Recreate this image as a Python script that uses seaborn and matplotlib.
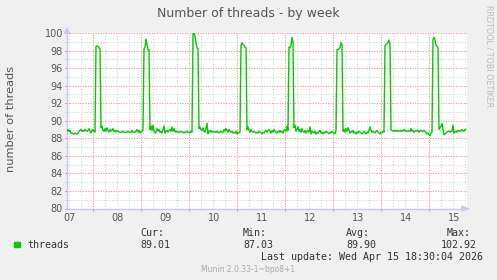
import numpy as np
import pandas as pd
import matplotlib
matplotlib.use("Agg")
import matplotlib.pyplot as plt
import seaborn as sns

# ---- data (30-minute samples) ----
seg0 = [88.8, 89.0, 88.8, 88.9, 88.6, 88.6, 88.5, 88.5, 88.6, 88.5,
        88.5, 88.6, 88.8, 88.9, 89.0, 88.8, 88.9, 88.8, 89.0, 88.9,
        88.8, 88.9, 89.1, 88.8, 88.6, 88.9, 89.0, 88.8, 88.7]
spike1 = [98.5, 98.5, 98.5, 98.3, 98.2]
seg1 = [89.2, 89.4, 88.9, 88.8, 89.1, 88.8, 89.2, 88.9, 88.7, 89.0,
        88.8, 88.9, 89.1, 88.8, 88.9, 88.7, 88.9, 88.8, 88.7, 88.7,
        88.7, 88.7, 88.8, 88.7, 88.7, 88.7, 88.7, 88.8, 88.7, 88.7,
        88.7, 88.9, 88.7, 88.7, 88.7, 88.8, 89.0, 88.7, 88.9, 88.6,
        88.7, 88.8, 88.9]
spike2 = [98.2, 98.4, 99.3, 98.7, 98.1, 98.1]
seg2 = [89.0, 89.4, 88.9, 89.5, 88.8, 88.6, 88.7, 89.1, 88.8, 89.0,
        88.7, 88.8, 88.6, 89.0, 89.4, 88.6, 88.8, 88.9, 88.7, 88.9,
        89.0, 88.8, 89.3, 88.8, 89.1, 88.7, 88.8, 88.7, 88.8, 88.7,
        88.7, 88.8, 88.7, 88.7, 88.6, 88.7, 88.7, 88.8, 88.7, 88.7,
        88.6, 88.8, 88.7]
spike3 = [99.9, 100.0, 99.6, 98.9, 98.3, 98.2]
seg3 = [89.1, 89.3, 89.0, 88.9, 89.2, 88.8, 88.7, 89.1, 89.7, 88.5,
        88.8, 88.9, 88.7, 88.8, 88.7, 88.8, 88.7, 88.7, 88.8, 88.6,
        88.7, 88.7, 88.8, 88.7, 88.7, 89.0, 88.8, 89.1, 88.9, 88.7,
        89.0, 88.8, 88.7, 88.8, 88.6, 88.7, 88.6, 88.8, 88.5, 88.7,
        88.6, 88.7]
spike4 = [98.6, 98.9, 98.7, 98.6, 98.4, 98.3]
seg4 = [89.0, 89.3, 88.9, 88.7, 89.0, 88.8, 88.7, 88.8, 88.7, 88.6,
        88.7, 88.6, 88.8, 88.7, 88.6, 88.5, 88.7, 88.6, 88.8, 88.9,
        88.7, 88.9, 89.0, 88.8, 88.6, 88.9, 88.7, 89.0, 88.8, 88.7,
        88.6, 88.8, 88.7, 88.9, 88.7, 88.8, 88.6, 88.9, 89.0, 88.8,
        89.4, 88.9]
spike5 = [98.4, 98.3, 98.6, 99.5, 99.0]
seg5 = [89.2, 89.5, 88.8, 89.0, 89.3, 88.8, 89.0, 88.7, 89.1, 88.8,
        88.7, 88.9, 88.6, 88.8, 88.9, 88.7, 89.3, 88.5, 88.8, 88.7,
        88.6, 88.8, 88.5, 88.7, 88.6, 88.8, 88.9, 88.6, 88.7, 88.5,
        88.7, 88.6, 88.8, 88.7, 88.6, 88.5, 88.7, 88.6, 88.8, 88.7,
        88.6, 88.5, 88.9]
spike6 = [98.1, 98.1, 98.2, 98.3, 98.9, 98.7]
seg6 = [88.8, 89.0, 88.7, 89.1, 88.8, 89.2, 88.9, 88.6, 88.8, 88.7,
        88.9, 88.6, 88.7, 88.5, 88.7, 88.6, 88.8, 88.7, 88.6, 88.5,
        88.6, 88.8, 88.6, 88.5, 88.7, 88.6, 88.9, 89.3, 88.9, 88.7,
        88.8, 88.7, 88.6, 88.8, 88.9, 88.7, 88.6, 88.5, 88.7, 88.6,
        88.8, 88.7]
spike7 = [98.6, 98.7, 98.8, 98.9, 99.2, 98.6]
seg7 = [89.0, 88.9, 88.8, 88.9, 88.8, 88.9, 88.8, 88.9, 88.8, 88.8,
        88.9, 88.8, 88.9, 89.0, 88.8, 88.9, 88.8, 88.8, 88.9, 88.8,
        89.1, 88.8, 88.9, 88.7, 88.8, 88.9, 88.8, 88.9, 88.7, 88.8,
        88.9, 88.8, 88.8, 88.9, 88.8, 88.7, 88.5, 88.6, 88.4, 88.3,
        88.6, 88.7]
spike8 = [99.2, 99.5, 99.2, 98.6, 98.5, 98.3]
seg8 = [89.0, 89.2, 89.4, 89.7, 89.0, 88.4, 88.5, 88.6, 88.7, 88.8,
        88.8, 88.7, 88.8, 88.8, 89.5, 88.6, 88.7, 88.8, 88.7, 88.9,
        88.8, 88.9, 88.8, 89.0, 88.9, 88.8, 89.0, 89.01]

threads = (seg0 + spike1 + seg1 + spike2 + seg2 + spike3 + seg3 + spike4 + seg4
           + spike5 + seg5 + spike6 + seg6 + spike7 + seg7 + spike8 + seg8)
sample_hours = 0.5  # one sample every 30 minutes

day_labels = ["07", "08", "09", "10", "11", "12", "13", "14", "15"]
y_ticks = [80, 82, 84, 86, 88, 90, 92, 94, 96, 98, 100]
stats_head = ["Cur:", "Min:", "Avg:", "Max:"]
stats_vals = ["89.01", "87.03", "89.90", "102.92"]

# ---- figure ----
W, H = 497, 280
sns.set_style("white")
plt.rcParams["font.family"] = ["DejaVu Sans"]
fig = plt.figure(figsize=(W / 100, H / 100), dpi=100)
fig.patch.set_facecolor("#F0F0F0")

x0, x1, ytop, ybot = 67, 467, 33, 208.5
ax = fig.add_axes([x0 / W, 1 - ybot / H, (x1 - x0) / W, (ybot - ytop) / H])
ax.set_facecolor("white")

df = pd.DataFrame({"t": np.arange(len(threads)) * sample_hours, "threads": threads})

# grid lines (drawn under the data)
red = "#EE9A9A"
gray = "#D8D8D8"
first_midnight = 12.8
for yv in range(80, 101):
    if yv % 2 == 0:
        ax.axhline(yv, color=red, lw=0.8, ls=(0, (1, 1.3)), zorder=1)
    else:
        ax.axhline(yv, color=gray, lw=0.8, ls=(0, (1, 1.5)), zorder=1)
for k in range(-2, 40):
    tv = first_midnight + 6 * k
    if 0 < tv < 200:
        if k % 4 == 0:
            ax.axvline(tv, color=red, lw=0.8, ls=(0, (1, 1.3)), zorder=1)
        else:
            ax.axvline(tv, color=gray, lw=0.8, ls=(0, (1, 1.5)), zorder=1)

sns.lineplot(data=df, x="t", y="threads", ax=ax, color="#00CC00", lw=1.0,
             zorder=3, legend=False)

ax.set_xlim(0, 200)
ax.set_ylim(80, 100)
ax.set_xlabel("")
ax.set_ylabel("")
for s in ["top", "right"]:
    ax.spines[s].set_visible(False)
for s in ["left", "bottom"]:
    ax.spines[s].set_color("#C8C8EE")
    ax.spines[s].set_linewidth(1.0)

ax.set_yticks(y_ticks)
ax.set_yticklabels([str(v) for v in y_ticks])
ax.set_xticks([1.5 + 24 * k for k in range(len(day_labels))])
ax.set_xticklabels(day_labels)
ax.tick_params(axis="both", labelsize=7, labelcolor="#555555", length=0, pad=3)

# small tick marks on the axes
for yv in range(80, 101):
    ax.plot([-0.9, 0], [yv, yv], color=red if yv % 2 == 0 else gray, lw=0.8,
            clip_on=False, zorder=2)
for k in range(0, 8):
    tv = first_midnight + 24 * k
    ax.plot([tv, tv], [80, 79.75], color=red, lw=0.8, clip_on=False, zorder=2)

# axis arrows
ax.annotate("", xy=(0, 101.0), xytext=(0, 100), xycoords="data",
            arrowprops=dict(arrowstyle="-|>,head_length=0.35,head_width=0.18",
                            color="#C8C8EE", lw=1.0), annotation_clip=False)
ax.annotate("", xy=(202.0, 80), xytext=(199, 80), xycoords="data",
            arrowprops=dict(arrowstyle="-|>,head_length=0.35,head_width=0.18",
                            color="#C8C8EE", lw=1.0), annotation_clip=False)

# texts
def px(x, y):
    return x / W, 1 - y / H

fig.text(*px(248.5, 13), "Number of threads - by week", ha="center", va="center",
         fontsize=9, color="#555555")
fig.text(*px(11, 118.5), "number of threads", ha="center", va="center",
         rotation=90, fontsize=8.2, color="#555555")
fig.text(*px(488.5, 56.5), "RRDTOOL / TOBI OETIKER", ha="center", va="center",
         rotation=-90, fontsize=5.8, color="#BBBBBB")

mono = "DejaVu Sans Mono"
fig.patches.append(plt.Rectangle(px(14, 247), 6 / W, 5 / H, transform=fig.transFigure,
                                 color="#00CC00", figure=fig))
fig.text(*px(27, 245), "threads", ha="left", va="center", fontsize=7.2,
         family=mono, color="#333333")
head_x = [140, 243, 346, 447]
for hx, hd in zip(head_x, stats_head):
    fig.text(*px(hx, 233.5), hd, ha="left", va="center", fontsize=7.2,
             family=mono, color="#333333")
val_x = [140, 243, 346, 441]
for vx, vv in zip(val_x, stats_vals):
    fig.text(*px(vx, 245), vv, ha="left", va="center", fontsize=7.2,
             family=mono, color="#333333")
fig.text(*px(483, 257), "Last update: Wed Apr 15 18:30:04 2026", ha="right",
         va="center", fontsize=7.2, family=mono, color="#333333")
fig.text(*px(248, 269.5), "Munin 2.0.33-1~bpo8+1", ha="center", va="center",
         fontsize=5.5, color="#AAAAAA")

fig.savefig("out.png", dpi=100, facecolor=fig.get_facecolor())
